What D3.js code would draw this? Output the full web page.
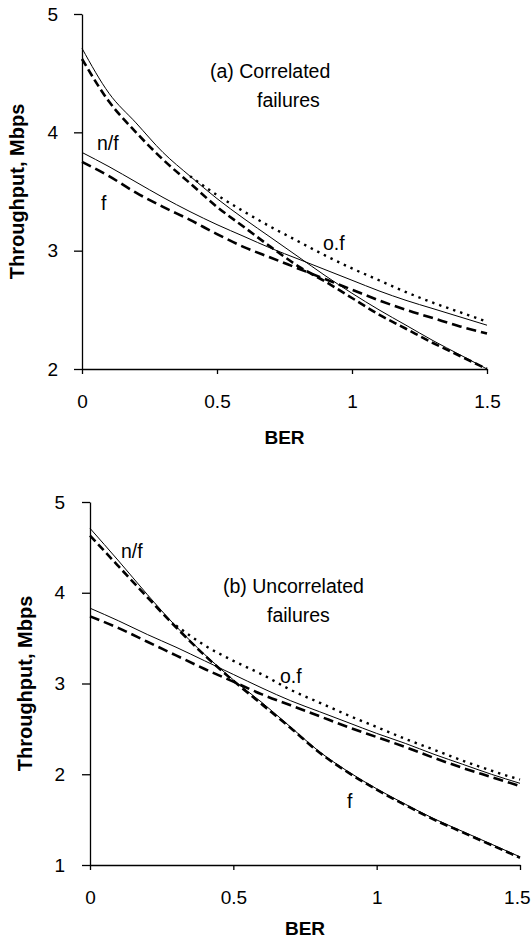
<!DOCTYPE html>
<html>
<head>
<meta charset="utf-8">
<script src="https://cdnjs.cloudflare.com/ajax/libs/d3/7.8.5/d3.min.js"></script>
<style>
  body { margin: 0; background: #fff; }
  svg text { font-family: "Liberation Sans", Arial, sans-serif; fill: #000; }
</style>
</head>
<body>
<div id="chart"></div>
<script>
// BER values shared by both panels
var ber = [0, 0.1, 0.2, 0.3, 0.4, 0.5, 0.6, 0.7, 0.8, 0.9, 1.0, 1.1, 1.2, 1.3, 1.4, 1.5];

// (a) Correlated failures
var aSolidHigh = [4.71, 4.33, 4.08, 3.83, 3.63, 3.44, 3.27, 3.11, 2.95, 2.79, 2.64, 2.50, 2.37, 2.24, 2.12, 2.00];
var aDashHigh  = [4.62, 4.26, 4.00, 3.77, 3.57, 3.37, 3.20, 3.03, 2.87, 2.74, 2.60, 2.46, 2.34, 2.22, 2.11, 2.00];
var aSolidLow  = [3.83, 3.71, 3.58, 3.45, 3.33, 3.22, 3.12, 3.02, 2.93, 2.84, 2.75, 2.66, 2.58, 2.51, 2.44, 2.37];
var aDashLow   = [3.75, 3.63, 3.49, 3.37, 3.26, 3.14, 3.03, 2.94, 2.85, 2.76, 2.67, 2.58, 2.50, 2.43, 2.36, 2.30];
var aDotted    = [null, null, null, null, 3.63, 3.47, 3.33, 3.20, 3.08, 2.96, 2.85, 2.75, 2.65, 2.56, 2.48, 2.40];

// (b) Uncorrelated failures
var bSolidHigh = [4.71, 4.35, 3.98, 3.63, 3.32, 3.04, 2.79, 2.52, 2.25, 2.03, 1.84, 1.67, 1.51, 1.37, 1.23, 1.09];
var bDashHigh  = [4.63, 4.29, 3.95, 3.62, 3.31, 3.03, 2.77, 2.51, 2.24, 2.02, 1.83, 1.66, 1.50, 1.36, 1.22, 1.08];
var bSolidLow  = [3.83, 3.69, 3.54, 3.40, 3.25, 3.10, 2.95, 2.81, 2.69, 2.57, 2.45, 2.34, 2.22, 2.11, 2.00, 1.90];
var bDashLow   = [3.74, 3.61, 3.46, 3.31, 3.16, 3.02, 2.88, 2.76, 2.64, 2.52, 2.41, 2.30, 2.18, 2.07, 1.97, 1.87];
var bDotted    = [null, null, null, 3.64, 3.42, 3.25, 3.10, 2.93, 2.79, 2.65, 2.52, 2.39, 2.27, 2.15, 2.04, 1.94];

var xTicks = [0, 0.5, 1, 1.5];
var aYTicks = [2, 3, 4, 5];
var bYTicks = [1, 2, 3, 4, 5];

var svg = d3.select("#chart").append("svg")
  .attr("width", 531)
  .attr("height", 941);

// line looks
var styles = {
  solid:    { width: 1,   dash: null },
  dashHigh: { width: 2.6, dash: "8,4" },
  dashLow:  { width: 2.6, dash: "10,5" },
  dotted:   { width: 2.4, dash: "2.4,5" }
};

function drawPanel(p) {
  var x = d3.scaleLinear().domain([0, 1.5]).range([p.left, p.right]);
  var y = d3.scaleLinear().domain(p.yDomain).range([p.bottom, p.top]);

  var g = svg.append("g");

  // axes
  var yAxis = g.append("g")
    .attr("transform", "translate(" + p.left + ",0)")
    .call(d3.axisLeft(y).tickValues(p.yTicks).tickSize(8).tickSizeOuter(0)
      .tickPadding(p.yPad).tickFormat(d => String(d)));

  var xAxis = g.append("g")
    .attr("transform", "translate(0," + p.bottom + ")")
    .call(d3.axisBottom(x).tickValues(xTicks).tickSize(5).tickSizeOuter(0)
      .tickPadding(21).tickFormat(d => String(d)));

  [yAxis, xAxis].forEach(function(a) {
    a.select(".domain").attr("stroke", "#000").attr("stroke-width", 1.3);
    a.selectAll(".tick line").attr("stroke", "#000").attr("stroke-width", 1.3);
    a.selectAll(".tick text").attr("font-size", "19px").attr("fill", "#000")
      .style("font-family", "'Liberation Sans', Arial, sans-serif");
  });

  // keep the last x label inside the page
  if (p.lastLabelEnd) {
    xAxis.selectAll(".tick text").filter(d => d === 1.5)
      .attr("text-anchor", "end")
      .attr("x", p.lastLabelEnd - p.right);
  }

  // series
  var line = d3.line()
    .defined(d => d[1] != null)
    .x(d => x(d[0]))
    .y(d => y(d[1]))
    .curve(d3.curveMonotoneX);

  p.series.forEach(function(s) {
    var st = styles[s.style];
    g.append("path")
      .datum(ber.map((b, i) => [b, s.values[i]]))
      .attr("d", line)
      .attr("fill", "none")
      .attr("stroke", "#000")
      .attr("stroke-width", st.width)
      .attr("stroke-dasharray", st.dash);
  });

  // axis titles
  g.append("text")
    .attr("transform", "translate(" + p.yTitleX + "," + ((p.top + p.bottom) / 2) + ") rotate(-90)")
    .attr("text-anchor", "middle")
    .attr("dy", "0.35em")
    .attr("font-size", "20px")
    .attr("font-weight", "bold")
    .text("Throughput, Mbps");

  g.append("text")
    .attr("x", (p.left + p.right) / 2)
    .attr("y", p.berY)
    .attr("text-anchor", "middle")
    .attr("dy", "0.35em")
    .attr("font-size", "19px")
    .attr("font-weight", "bold")
    .text("BER");

  // annotations
  p.notes.forEach(function(n) {
    g.append("text")
      .attr("x", n[1])
      .attr("y", n[2])
      .attr("font-size", "19.5px")
      .text(n[0]);
  });
}

drawPanel({
  left: 82, right: 487, top: 14, bottom: 369,
  yDomain: [2, 5], yTicks: aYTicks, yPad: 16,
  yTitleX: 17, berY: 437,
  series: [
    { values: aSolidHigh, style: "solid" },
    { values: aDashHigh, style: "dashHigh" },
    { values: aSolidLow, style: "solid" },
    { values: aDashLow, style: "dashLow" },
    { values: aDotted, style: "dotted" }
  ],
  notes: [
    ["(a) Correlated", 210, 78],
    ["failures", 257, 107],
    ["n/f", 97, 150],
    ["f", 101, 210],
    ["o.f", 323, 250]
  ]
});

drawPanel({
  left: 90, right: 520, top: 502, bottom: 865,
  yDomain: [1, 5], yTicks: bYTicks, yPad: 17,
  yTitleX: 25, berY: 928, lastLabelEnd: 530,
  series: [
    { values: bSolidHigh, style: "solid" },
    { values: bDashHigh, style: "dashHigh" },
    { values: bSolidLow, style: "solid" },
    { values: bDashLow, style: "dashLow" },
    { values: bDotted, style: "dotted" }
  ],
  notes: [
    ["n/f", 121, 558],
    ["(b) Uncorrelated", 223, 593],
    ["failures", 267, 622],
    ["o.f", 280, 683],
    ["f", 347, 808]
  ]
});
</script>
</body>
</html>
